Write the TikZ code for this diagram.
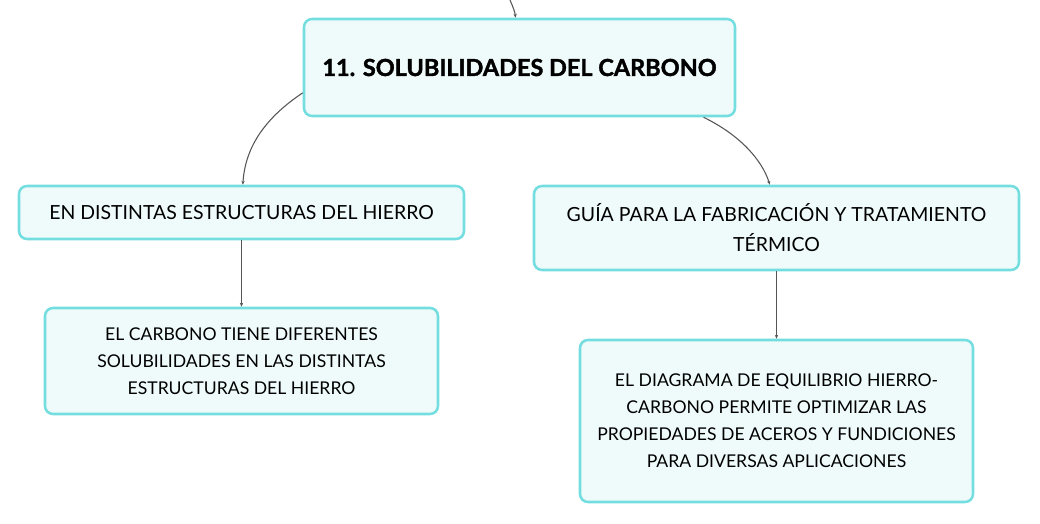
\documentclass[tikz,border=0pt]{standalone}
\usepackage{fontspec}
\setmainfont{Lato}
\newfontfamily\heavyfont{Lato}[BoldFeatures={FakeBold=1.6}]
\usetikzlibrary{arrows.meta}
\definecolor{bordc}{HTML}{74DDE0}
\definecolor{fillc}{HTML}{EFFBFB}
\definecolor{linec}{HTML}{555555}
\tikzset{
  box/.style={draw=bordc, fill=fillc, line width=1.9pt, rounded corners=6pt, align=center, inner sep=0pt},
  titletxt/.style={font=\heavyfont\fontsize{17.6pt}{22pt}\selectfont\bfseries},
  childtxt/.style={font=\fontsize{14.6pt}{22.5pt}\selectfont},
  leaftxt/.style={font=\fontsize{13.2pt}{20.25pt}\selectfont},
  conn/.style={draw=linec, line width=0.8pt, -{Stealth[length=3pt,width=2.5pt]}},
}
\begin{document}
\begin{tikzpicture}[x=0.75pt,y=-0.75pt]
\useasboundingbox (0,0) rectangle (1040,524);
\node[box, titletxt, minimum width=431*0.75pt, minimum height=97*0.75pt] (main) at (519.5,67.5) {11. SOLUBILIDADES DEL CARBONO};
\node[box, childtxt, minimum width=445*0.75pt, minimum height=53*0.75pt] (lc) at (241.5,212.5) {EN DISTINTAS ESTRUCTURAS DEL HIERRO};
\node[box, leaftxt, minimum width=393*0.75pt, minimum height=106*0.75pt] (lg) at (241.5,361) {EL CARBONO TIENE DIFERENTES\\SOLUBILIDADES EN LAS DISTINTAS\\ESTRUCTURAS DEL HIERRO};
\node[box, childtxt, minimum width=485*0.75pt, minimum height=84*0.75pt] (rc) at (776.5,228) {GUÍA PARA LA FABRICACIÓN Y TRATAMIENTO\\TÉRMICO};
\node[box, leaftxt, minimum width=393*0.75pt, minimum height=162*0.75pt] (rg) at (776.5,421) {EL DIAGRAMA DE EQUILIBRIO HIERRO-\\CARBONO PERMITE OPTIMIZAR LAS\\PROPIEDADES DE ACEROS Y FUNDICIONES\\PARA DIVERSAS APLICACIONES};
\coordinate (top) at (510,0);
\draw[conn] (top) .. controls (513,7) and (515,12) .. ([xshift=-3pt]main.north);
\draw[conn] ([yshift=-19pt]main.west) .. controls (262,120) and (245,150) .. ([xshift=1pt]lc.north);
\draw[conn] ([xshift=138pt]main.south) .. controls (740,135) and (762,160) .. ([xshift=-5pt]rc.north);
\draw[conn] (lc.south) -- (lg.north);
\draw[conn] (rc.south) -- (rg.north);
\end{tikzpicture}
\end{document}
